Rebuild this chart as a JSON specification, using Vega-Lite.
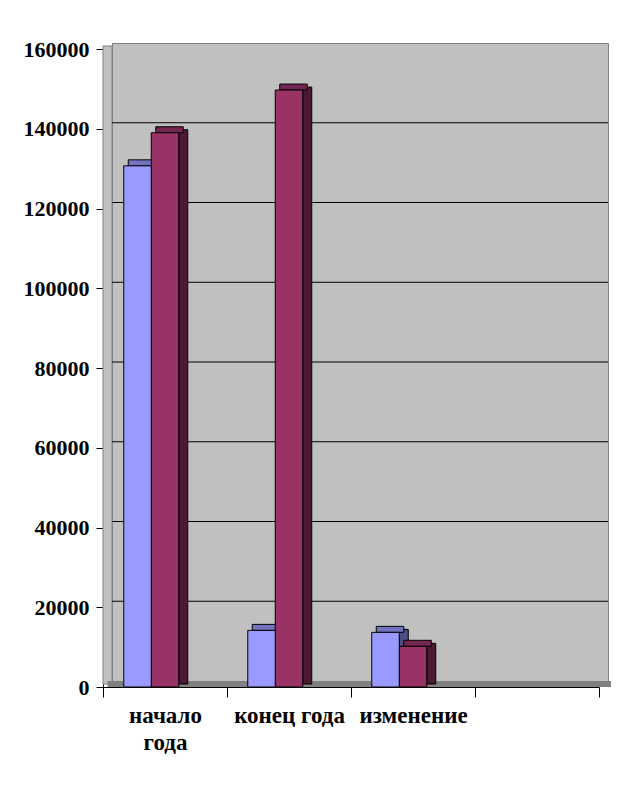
{
  "$schema": "https://vega.github.io/schema/vega-lite/v6.json",
  "autosize": {"type": "none"},
  "width": 496,
  "height": 638,
  "padding": {"left": 112, "top": 43, "right": 31, "bottom": 112},
  "background": "white",
  "config": {
    "view": {"fill": "#C0C0C0", "stroke": "#808080", "strokeWidth": 1},
    "font": "Liberation Serif"
  },
  "datasets": {
    "bars": [
      {"cat": "начало года", "series": "A", "value": 130700},
      {"cat": "начало года", "series": "B", "value": 139000},
      {"cat": "конец года", "series": "A", "value": 14200},
      {"cat": "конец года", "series": "B", "value": 149700},
      {"cat": "изменение", "series": "A", "value": 13700},
      {"cat": "изменение", "series": "B", "value": 10200}
    ],
    "grid": [
      {"g": 20000}, {"g": 40000}, {"g": 60000}, {"g": 80000},
      {"g": 100000}, {"g": 120000}, {"g": 140000}
    ],
    "wall": [{"cat": "начало года", "lo": 0, "hi": 160000}]
  },
  "encoding": {
    "x": {
      "field": "cat", "type": "nominal",
      "scale": {"domain": ["начало года", "конец года", "изменение", "x"], "paddingInner": 0, "paddingOuter": 0},
      "axis": {
        "title": null, "orient": "bottom", "offset": 15, "translate": -8.5, "tickBand": "extent",
        "tickSize": 10, "tickColor": "black", "domainColor": "black", "labelAngle": 0,
        "labelFont": "Liberation Serif", "labelFontWeight": "bold", "labelFontSize": 23, "labelColor": "black",
        "labelPadding": 7, "labelLineHeight": 27, "labelLimit": 300,
        "labelExpr": "datum.value == 'начало года' ? ['начало', 'года'] : (datum.value == 'x' ? '' : datum.value)"
      }
    },
    "y": {
      "field": "value", "type": "quantitative",
      "scale": {"domain": [0, 160000], "nice": false},
      "axis": {
        "title": null, "orient": "left", "offset": 15, "translate": 6.5, "grid": false,
        "values": [0, 20000, 40000, 60000, 80000, 100000, 120000, 140000, 160000],
        "format": "d", "tickSize": 7, "tickColor": "black", "domainColor": "black",
        "labelFont": "Liberation Serif", "labelFontWeight": "bold", "labelFontSize": 22, "labelColor": "black",
        "labelPadding": 7
      }
    }
  },
  "layer": [
    {
      "data": {"name": "wall"},
      "mark": {"type": "bar", "width": 9, "xOffset": -66.5, "yOffset": 3, "y2Offset": 3, "fill": "#C0C0C0", "stroke": "#808080", "strokeWidth": 1},
      "encoding": {
        "y": {"field": "lo", "type": "quantitative", "title": null},
        "y2": {"field": "hi"}
      }
    },
    {
      "data": {"name": "grid"},
      "mark": {"type": "rule", "color": "black", "strokeWidth": 1},
      "encoding": {
        "x": null,
        "y": {"field": "g", "type": "quantitative", "title": null}
      }
    },
    {
      "data": {"values": [{"z": 0}]},
      "mark": {"type": "rule", "color": "#808080", "strokeWidth": 6, "yOffset": 3, "xOffset": -4.5, "x2Offset": 3},
      "encoding": {
        "x": {"datum": "начало года", "bandPosition": 0},
        "x2": {"datum": "x", "bandPosition": 1},
        "y": {"field": "z", "type": "quantitative", "title": null}
      }
    },
    {
      "data": {"name": "bars"},
      "transform": [{"filter": "datum.series == 'A'"}],
      "mark": {"type": "bar", "width": 9, "xOffset": -18.25, "yOffset": 3, "y2Offset": 3, "fill": "#4D4D80", "stroke": "black", "strokeWidth": 1}
    },
    {
      "data": {"name": "bars"},
      "transform": [{"filter": "datum.series == 'A'"}],
      "mark": {"type": "bar", "width": 27.5, "xOffset": -32, "yOffset": 0, "y2Offset": 6, "fill": "#7373BF", "stroke": "black", "strokeWidth": 1},
      "encoding": {"y2": {"field": "value"}}
    },
    {
      "data": {"name": "bars"},
      "transform": [{"filter": "datum.series == 'B'"}],
      "mark": {"type": "bar", "width": 9, "xOffset": 9.25, "yOffset": 3, "y2Offset": 3, "fill": "#4D1A33", "stroke": "black", "strokeWidth": 1}
    },
    {
      "data": {"name": "bars"},
      "transform": [{"filter": "datum.series == 'B'"}],
      "mark": {"type": "bar", "width": 27.5, "xOffset": -4.5, "yOffset": 0, "y2Offset": 6, "fill": "#732650", "stroke": "black", "strokeWidth": 1},
      "encoding": {"y2": {"field": "value"}}
    },
    {
      "data": {"name": "bars"},
      "transform": [{"filter": "datum.series == 'B'"}],
      "mark": {"type": "bar", "width": 27.5, "xOffset": -9, "yOffset": 6, "y2Offset": 6, "fill": "#993366", "stroke": "black", "strokeWidth": 1}
    },
    {
      "data": {"name": "bars"},
      "transform": [{"filter": "datum.series == 'A'"}],
      "mark": {"type": "bar", "width": 27.5, "xOffset": -36.5, "yOffset": 6, "y2Offset": 6, "fill": "#9999FF", "stroke": "black", "strokeWidth": 1}
    }
  ]
}
